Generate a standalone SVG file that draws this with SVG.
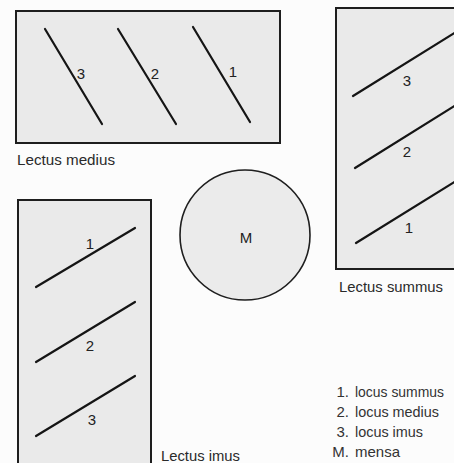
<svg xmlns="http://www.w3.org/2000/svg" width="454" height="463" viewBox="0 0 454 463">
<style>
.bg{fill:#fcfcfc}
.couch{fill:#eaeaea;stroke:#1e1e1e;stroke-width:2}
.seat{stroke:#151515;stroke-width:2.2;stroke-linecap:round;fill:none}
.num{font-family:"Liberation Sans",Arial,sans-serif;font-size:15px;fill:#222;text-anchor:middle}
.lab{font-family:"Liberation Sans",Arial,sans-serif;font-size:15px;fill:#2a2a2a}
.leg{font-family:"Liberation Sans",Arial,sans-serif;font-size:15px;fill:#333}
</style>
<rect class="bg" x="0" y="0" width="454" height="463"/>
<g id="lectus-medius">
<rect class="couch" x="16" y="11" width="264" height="132"/>
<line class="seat" x1="45" y1="29" x2="102" y2="124"/>
<line class="seat" x1="118" y1="29" x2="176" y2="124"/>
<line class="seat" x1="193" y1="27" x2="250" y2="122"/>
<text class="num" x="81" y="79">3</text>
<text class="num" x="155" y="79">2</text>
<text class="num" x="233" y="77">1</text>
<text class="lab" x="17" y="165" textLength="98" lengthAdjust="spacingAndGlyphs">Lectus medius</text>
</g>
<g id="lectus-summus">
<rect class="couch" x="336" y="8" width="130" height="261"/>
<line class="seat" x1="353" y1="96" x2="456" y2="32"/>
<line class="seat" x1="355" y1="168" x2="456" y2="105"/>
<line class="seat" x1="356" y1="243" x2="456" y2="181"/>
<text class="num" x="407" y="86">3</text>
<text class="num" x="407" y="157">2</text>
<text class="num" x="409" y="233">1</text>
<text class="lab" x="339" y="292" textLength="104" lengthAdjust="spacingAndGlyphs">Lectus summus</text>
</g>
<g id="lectus-imus">
<rect class="couch" x="18" y="200" width="133" height="275"/>
<line class="seat" x1="36" y1="287" x2="135" y2="228"/>
<line class="seat" x1="36" y1="362" x2="135" y2="302"/>
<line class="seat" x1="36" y1="436" x2="135" y2="376"/>
<text class="num" x="90" y="249">1</text>
<text class="num" x="90" y="351">2</text>
<text class="num" x="92" y="425">3</text>
<text class="lab" x="161" y="461" textLength="79" lengthAdjust="spacingAndGlyphs">Lectus imus</text>
</g>
<g id="mensa">
<circle cx="245" cy="235" r="65" fill="#ebebeb" stroke="#1e1e1e" stroke-width="1.6"/>
<text class="num" x="246" y="243" font-size="16">M</text>
</g>
<g id="legend">
<text class="leg" x="349" y="397" text-anchor="end">1.</text>
<text class="leg" x="355" y="397" textLength="89" lengthAdjust="spacingAndGlyphs">locus summus</text>
<text class="leg" x="349" y="417" text-anchor="end">2.</text>
<text class="leg" x="355" y="417" textLength="84" lengthAdjust="spacingAndGlyphs">locus medius</text>
<text class="leg" x="349" y="437" text-anchor="end">3.</text>
<text class="leg" x="355" y="437" textLength="68" lengthAdjust="spacingAndGlyphs">locus imus</text>
<text class="leg" x="349" y="457" text-anchor="end">M.</text>
<text class="leg" x="355" y="457" textLength="45" lengthAdjust="spacingAndGlyphs">mensa</text>
</g>
<g id="connectors"/>
</svg>
